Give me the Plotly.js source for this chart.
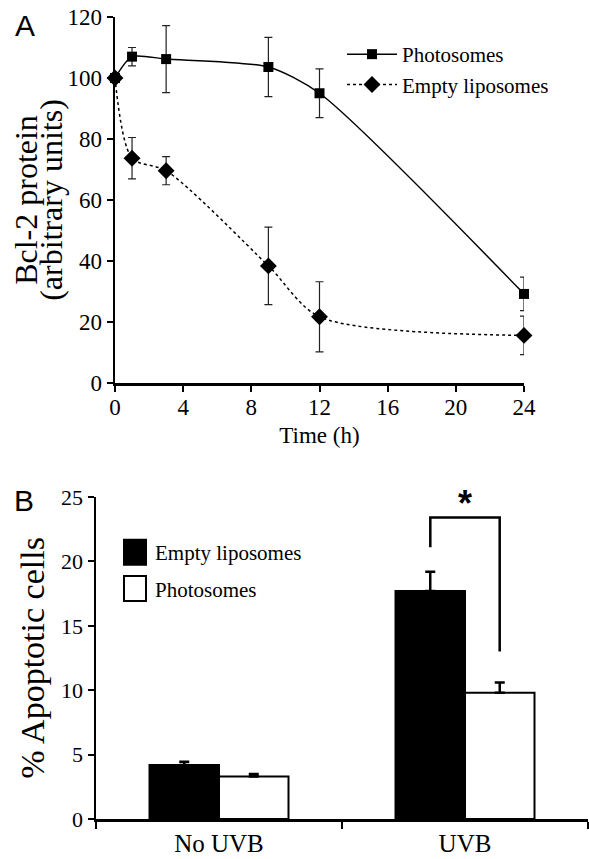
<!DOCTYPE html>
<html>
<head>
<meta charset="utf-8">
<script src="https://cdn.plot.ly/plotly-3.0.1.min.js"></script>
<style>
  html, body { margin: 0; padding: 0; background: #fff; }
  #chart { width: 589px; height: 859px; }
</style>
</head>
<body>
<div id="chart"></div>
<script>
// ---------- Panel A data ----------
var timeH = [0, 1, 3, 9, 12, 24];
var photoMean = [100, 107, 106.2, 103.6, 95, 29.2];
var photoErr = [0, 3, 11, 9.7, 8, 5.5];
var emptyMean = [100, 73.7, 69.6, 38.4, 21.7, 15.6];
var emptyErr = [0, 6.8, 4.6, 12.7, 11.5, 6.3];
var xTicksA = [0, 4, 8, 12, 16, 20, 24];

// ---------- Panel B data ----------
var groups = ['No UVB', 'UVB'];
var emptyApop = [4.2, 17.7];
var emptyApopErr = [0.25, 1.5];
var photoApop = [3.3, 9.8];
var photoApopErr = [0.2, 0.8];

var serif = 'Liberation Serif';
var sans = 'Liberation Sans';

var traces = [
  {
    x: timeH, y: photoMean, name: 'Photosomes', type: 'scatter', mode: 'lines+markers',
    xaxis: 'x', yaxis: 'y', legend: 'legend', cliponaxis: false,
    line: { color: '#000', width: 1.5, shape: 'spline', smoothing: 0.7 },
    marker: { symbol: 'square', size: 10, color: '#000' },
    error_y: { type: 'data', array: photoErr, visible: true, color: '#222', thickness: 1.2, width: 4 }
  },
  {
    x: timeH, y: emptyMean, name: 'Empty liposomes', type: 'scatter', mode: 'lines+markers',
    xaxis: 'x', yaxis: 'y', legend: 'legend', cliponaxis: false,
    line: { color: '#000', width: 1.5, shape: 'spline', smoothing: 0.8, dash: 'dot' },
    marker: { symbol: 'diamond', size: 13, color: '#000' },
    error_y: { type: 'data', array: emptyErr, visible: true, color: '#222', thickness: 1.2, width: 4 }
  },
  {
    x: groups, y: emptyApop, name: 'Empty liposomes', type: 'bar',
    xaxis: 'x2', yaxis: 'y2', legend: 'legend2', legendgroup: 'e',
    marker: { color: '#000', line: { color: '#000', width: 2 } },
    error_y: { type: 'data', array: emptyApopErr, arrayminus: [0, 0], symmetric: false, visible: true, color: '#000', thickness: 2.5, width: 5 }
  },
  {
    x: groups, y: photoApop, name: 'Photosomes', type: 'bar',
    xaxis: 'x2', yaxis: 'y2', legend: 'legend2', legendgroup: 'p',
    marker: { color: '#fff', line: { color: '#000', width: 2 } },
    error_y: { type: 'data', array: photoApopErr, arrayminus: [0, 0], symmetric: false, visible: true, color: '#000', thickness: 2.5, width: 5 }
  }
];

function axisBase(tickSize) {
  return {
    showgrid: false, zeroline: false, showline: true, linecolor: '#000', linewidth: 2.5,
    ticks: 'outside', ticklen: 6, tickwidth: 2, tickcolor: '#000',
    tickfont: { family: serif, size: tickSize, color: '#000' }
  };
}

var layout = {
  width: 589, height: 859,
  margin: { l: 0, r: 0, t: 0, b: 0 },
  paper_bgcolor: '#fff', plot_bgcolor: '#fff',
  font: { family: serif, size: 22, color: '#000' },
  barmode: 'group', bargap: 0.435, bargroupgap: 0,
  xaxis: Object.assign(axisBase(23), {
    domain: [115 / 589, 524 / 589], anchor: 'y', range: [0, 24],
    tickvals: xTicksA, ticklabelstandoff: -4,
    title: { text: 'Time (h)', font: { family: serif, size: 23, color: '#000' }, standoff: 8 }
  }),
  yaxis: Object.assign(axisBase(23), {
    domain: [476 / 859, 842 / 859], anchor: 'x', range: [0, 120], dtick: 20,
    title: {
      text: '<span style="font-size:32px">Bcl-2 protein</span><br><span style="font-size:32px">(arbitrary units)</span>',
      font: { family: serif, size: 19, color: '#000' }, standoff: 0
    }
  }),
  xaxis2: Object.assign(axisBase(25), {
    domain: [96 / 589, 588 / 589], anchor: 'y2', type: 'category', range: [-0.5, 1.5],
    tickson: 'boundaries', ticklen: 7
  }),
  yaxis2: Object.assign(axisBase(22), {
    domain: [40 / 859, 362 / 859], anchor: 'x2', range: [0, 25], dtick: 5,
    title: { text: '% Apoptotic cells', font: { family: serif, size: 34, color: '#000' }, standoff: 6 }
  }),
  legend: {
    x: 342 / 589, y: 1 - 34 / 859, xanchor: 'left', yanchor: 'top',
    bgcolor: 'rgba(0,0,0,0)', itemwidth: 50,
    font: { family: serif, size: 21, color: '#000' }
  },
  legend2: {
    x: 115 / 589, y: 1 - 532 / 859, xanchor: 'left', yanchor: 'top',
    bgcolor: 'rgba(0,0,0,0)', tracegroupgap: 6,
    font: { family: serif, size: 21, color: '#000' }
  },
  shapes: [
    { type: 'path', xref: 'x2', yref: 'y2',
      path: 'M 0.859,21.1 L 0.859,23.4 L 1.141,23.4 L 1.141,13.0',
      line: { color: '#000', width: 2.5 } }
  ],
  annotations: [
    { text: 'A', xref: 'paper', yref: 'paper', x: 25 / 589, y: 1 - 26 / 859, xanchor: 'center', yanchor: 'middle',
      showarrow: false, font: { family: sans, size: 30, color: '#000' } },
    { text: 'B', xref: 'paper', yref: 'paper', x: 24 / 589, y: 1 - 500 / 859, xanchor: 'center', yanchor: 'middle',
      showarrow: false, font: { family: sans, size: 30, color: '#000' } },
    { text: '*', xref: 'x2', yref: 'y2', x: 1, y: 24.5, xanchor: 'center', yanchor: 'middle',
      showarrow: false, font: { family: sans, size: 36, weight: 'bold', color: '#000' } }
  ],
  showlegend: true
};

Plotly.newPlot('chart', traces, layout, { staticPlot: true, displayModeBar: false }).then(function (gd) {
  // enlarge the bar legend swatches to the size used in the original figure
  gd.querySelectorAll('g.legend2 .legendpoints path').forEach(function (p) {
    p.setAttribute('d', 'M11,12.5H-11V-12.5H11Z');
  });
});
</script>
</body>
</html>
